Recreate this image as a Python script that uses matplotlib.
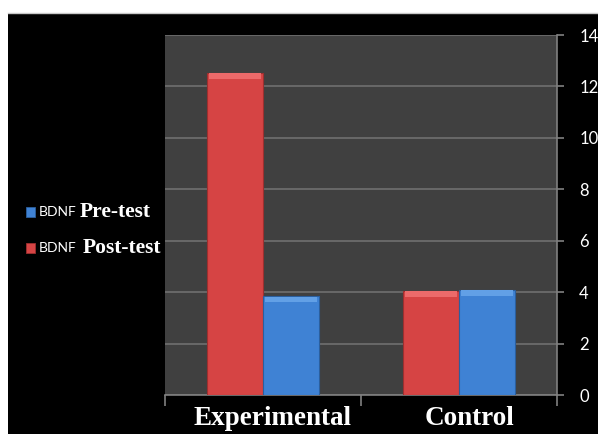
import numpy as np
import matplotlib
matplotlib.use("Agg")
import matplotlib.pyplot as plt
from matplotlib.patches import Rectangle
from matplotlib.lines import Line2D
from matplotlib.transforms import ScaledTranslation

# data
groups = ["Experimental", "Control"]
post_test = [12.54, 4.06]
pre_test = [3.85, 4.10]
yticks = [0, 2, 4, 6, 8, 10, 12, 14]

RED = "#d64444"; RED_EDGE = "#9e2f2f"
BLUE = "#3f82d4"; BLUE_EDGE = "#2b5f9e"

fig = plt.figure(figsize=(5.98, 4.34), dpi=100, facecolor="white")
# black slide background (white strip on top and left)
fig.patches.append(Rectangle((8/598, 0), 1, 1 - 13/434, transform=fig.transFigure,
                             facecolor="black", lw=0, zorder=-10))
fig.lines.append(Line2D([8/598, 1], [1 - 13/434]*2, transform=fig.transFigure,
                        color="#c8c8c8", lw=1))

ax = fig.add_axes([165/598, 1 - 395/434, 392/598, 360/434])
ax.set_facecolor("#404040")

x = np.arange(len(groups)); w = 0.286
ax.bar(x - w/2, post_test, w, color=RED, edgecolor=RED_EDGE, lw=0.8, zorder=3)
ax.bar(x + w/2, pre_test, w, color=BLUE, edgecolor=BLUE_EDGE, lw=0.8, zorder=3)
# bevel highlight on top of each bar
for xs, vals, c in [(x - w/2, post_test, "#ec6a6a"), (x + w/2, pre_test, "#62a0e6")]:
    ax.bar(xs, [0.22]*len(vals), w*0.92, bottom=np.array(vals) - 0.24, color=c, lw=0, zorder=4)

ax.set_xlim(-0.5, 1.5); ax.set_ylim(0, 14)
ax.set_yticks(yticks)
ax.yaxis.tick_right()
ax.grid(axis="y", color="#707070", lw=1.2, zorder=0)
ax.set_axisbelow(True)
for s in ["left", "top"]: ax.spines[s].set_visible(False)
for s in ["right", "bottom"]: ax.spines[s].set_color("#808080"); ax.spines[s].set_linewidth(1.2)
ax.tick_params(axis="y", colors="#808080", length=5, width=1.2, pad=11, labelcolor="white", labelsize=12)
for lab in ax.get_yticklabels(): lab.set_fontfamily("Lato")
ax.set_xticks(x); ax.set_xticklabels(groups)
ax.set_xticks([-0.5, 0.5, 1.5], minor=True)
ax.tick_params(axis="x", which="major", length=0, pad=8, labelcolor="white")
ax.tick_params(axis="x", which="minor", length=8, width=1.2, colors="#808080")
off = ScaledTranslation(10/100, 0, fig.dpi_scale_trans)
for lab in ax.get_xticklabels():
    lab.set_fontfamily("Liberation Serif"); lab.set_fontweight("bold"); lab.set_fontsize(19.5)
    lab.set_transform(lab.get_transform() + off)

# legend on the left
for yy, c, ec, name, tx in [(212, BLUE, BLUE_EDGE, "Pre-test", 80), (248, RED, RED_EDGE, "Post-test", 83)]:
    fig.patches.append(Rectangle((26/598, 1 - (yy + 5)/434), 9/598, 10/434, transform=fig.transFigure,
                                 facecolor=c, edgecolor=ec, lw=0.6))
    fig.text(39/598, 1 - yy/434, "BDNF", color="white", fontsize=10, va="center", ha="left",
             family="Lato")
    fig.text(tx/598, 1 - yy/434, name, color="white", fontsize=15.5, fontweight="bold",
             family="Liberation Serif", va="center", ha="left")

fig.savefig("out.png", dpi=100, facecolor=fig.get_facecolor())
